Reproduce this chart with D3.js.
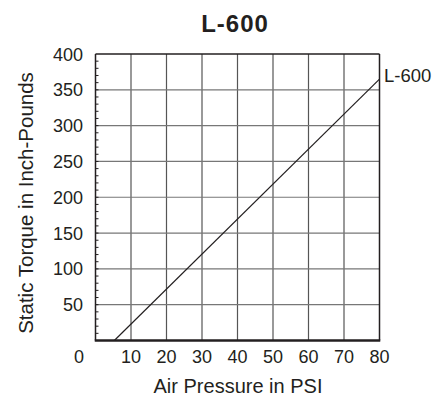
<!DOCTYPE html>
<html>
<head>
<meta charset="utf-8">
<script src="https://cdn.jsdelivr.net/npm/d3@7"></script>
<style>
  body { margin: 0; background: #fff; }
  text { font-family: "Liberation Sans", Arial, sans-serif; fill: #231f20; }
</style>
</head>
<body>
<div id="chart"></div>
<script>
// data
const psi = [5.3, 80];
const torque = [0, 365];
const xTicks = [10, 20, 30, 40, 50, 60, 70, 80];
const yTicks = [50, 100, 150, 200, 250, 300, 350, 400];
const seriesName = "L-600";

const width = 433, height = 397;
const plot = { left: 95.5, right: 379.5, top: 54, bottom: 340.5 };

const svg = d3.select("#chart").append("svg")
  .attr("width", width)
  .attr("height", height);

const x = d3.scaleLinear().domain([0, 80]).range([plot.left, plot.right]);
const y = d3.scaleLinear().domain([0, 400]).range([plot.bottom, plot.top]);

// grid
svg.selectAll(".vgrid")
  .data(xTicks.slice(0, -1))
  .join("line")
  .attr("x1", d => x(d)).attr("x2", d => x(d))
  .attr("y1", plot.top).attr("y2", plot.bottom)
  .attr("stroke", "#555").attr("stroke-width", 1.2);

svg.selectAll(".hgrid")
  .data(yTicks.slice(0, -1))
  .join("line")
  .attr("x1", plot.left).attr("x2", plot.right)
  .attr("y1", d => y(d)).attr("y2", d => y(d))
  .attr("stroke", "#777").attr("stroke-width", 1.2);

// small ticks inside the left edge every 10
svg.selectAll(".minor")
  .data(d3.range(10, 400, 10))
  .join("line")
  .attr("x1", plot.left).attr("x2", plot.left + 3)
  .attr("y1", d => y(d)).attr("y2", d => y(d))
  .attr("stroke", "#231f20").attr("stroke-width", 1);

// frame
svg.append("line")
  .attr("x1", plot.left).attr("x2", plot.right)
  .attr("y1", plot.top).attr("y2", plot.top)
  .attr("stroke", "#231f20").attr("stroke-width", 1.5);
svg.append("line")
  .attr("x1", plot.left).attr("x2", plot.left)
  .attr("y1", plot.top).attr("y2", plot.bottom)
  .attr("stroke", "#231f20").attr("stroke-width", 1.5);
svg.append("line")
  .attr("x1", plot.right).attr("x2", plot.right)
  .attr("y1", plot.top).attr("y2", plot.bottom)
  .attr("stroke", "#231f20").attr("stroke-width", 1.5);
svg.append("line")
  .attr("x1", plot.left - 0.75).attr("x2", plot.right + 0.75)
  .attr("y1", plot.bottom).attr("y2", plot.bottom)
  .attr("stroke", "#231f20").attr("stroke-width", 2.5);

// tick labels
svg.selectAll(".xlab")
  .data(xTicks)
  .join("text")
  .attr("x", d => x(d)).attr("y", 363)
  .attr("text-anchor", "middle")
  .attr("font-size", 18)
  .text(d => d);

svg.selectAll(".ylab")
  .data(yTicks)
  .join("text")
  .attr("x", 83).attr("y", d => y(d) + 6.5)
  .attr("text-anchor", "end")
  .attr("font-size", 18)
  .text(d => d);

svg.append("text")
  .attr("x", 84).attr("y", 363)
  .attr("text-anchor", "end")
  .attr("font-size", 18)
  .text("0");

// the line
const line = d3.line().x(d => x(d[0])).y(d => y(d[1]));
svg.append("path")
  .datum(d3.zip(psi, torque))
  .attr("d", line)
  .attr("fill", "none")
  .attr("stroke", "#231f20")
  .attr("stroke-width", 1.2);

svg.append("text")
  .attr("x", 384).attr("y", y(torque[1]) + 3)
  .attr("font-size", 18.5)
  .text(seriesName);

// titles
svg.append("text")
  .attr("x", 235).attr("y", 32)
  .attr("text-anchor", "middle")
  .attr("font-family", "'Liberation Sans Narrow', 'Liberation Sans', sans-serif")
  .attr("font-weight", "bold")
  .attr("font-size", 24)
  .attr("letter-spacing", 1)
  .text("L-600");

svg.append("text")
  .attr("x", 238).attr("y", 393)
  .attr("text-anchor", "middle")
  .attr("font-size", 20)
  .text("Air Pressure in PSI");

svg.append("text")
  .attr("transform", "translate(33,203) rotate(-90)")
  .attr("text-anchor", "middle")
  .attr("font-size", 20.5)
  .text("Static Torque in Inch-Pounds");
</script>
</body>
</html>
